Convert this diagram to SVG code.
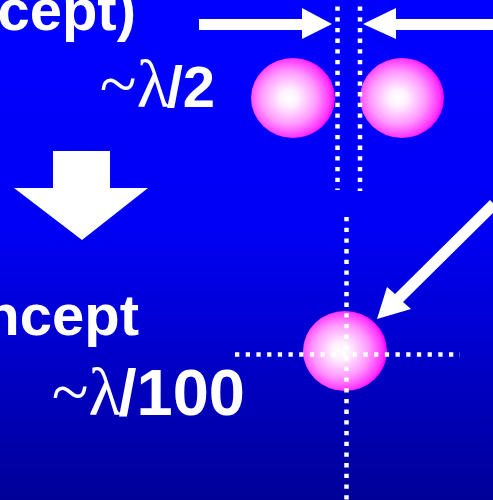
<svg xmlns="http://www.w3.org/2000/svg" width="493" height="500" viewBox="0 0 493 500">
<defs>
<linearGradient id="bg" x1="0" y1="0" x2="0" y2="1">
<stop offset="0" stop-color="#0000FF"/>
<stop offset="0.45" stop-color="#0000F6"/>
<stop offset="1" stop-color="#000098"/>
</linearGradient>
<radialGradient id="ball" cx="0.45" cy="0.5" r="0.55" fx="0.45" fy="0.5">
<stop offset="0" stop-color="#FFFFFF"/>
<stop offset="0.2" stop-color="#FFF0FF"/>
<stop offset="0.6" stop-color="#FF99FF"/>
<stop offset="0.9" stop-color="#FF33FF"/>
<stop offset="1" stop-color="#F000F0"/>
</radialGradient>
<style>
.t{font-family:"Liberation Sans",Arial,sans-serif;font-weight:bold;font-size:58px;fill:#fff}
.g{font-family:"Liberation Serif","DejaVu Serif",serif;font-weight:normal;font-size:68px}
.dot{stroke:#fff;stroke-width:4.5;stroke-dasharray:4.3 6.4;fill:none}
.w{fill:#fff}
</style>
</defs>
<rect width="493" height="500" fill="url(#bg)"/>
<g id="texts">
<text class="t" x="136" y="30" text-anchor="end">cept)</text>
<text class="t" x="215" y="107" text-anchor="end" font-size="60"><tspan class="g">~λ</tspan><tspan dx="-3">/2</tspan></text>
<text class="t" x="139" y="335" text-anchor="end">ncept</text>
<text class="t" x="245" y="415" text-anchor="end" font-size="65" style="font-size:65px"><tspan class="g">~λ</tspan><tspan dx="-3">/100</tspan></text>
</g>
<g id="down-arrow">
<polygon class="w" points="53,151 110,151 110,188 148,188 82,240 14,188 53,188"/>
</g>
<g id="ball-left"><ellipse cx="293" cy="98" rx="42" ry="40" fill="url(#ball)"/></g>
<g id="ball-right"><ellipse cx="402" cy="98" rx="42" ry="40" fill="url(#ball)"/></g>
<g id="ball-bottom"><ellipse cx="345" cy="351" rx="42" ry="40" fill="url(#ball)"/></g>
<g id="connectors">
<line class="dot" x1="337.5" y1="6.5" x2="337.5" y2="190"/>
<line class="dot" x1="360" y1="6.5" x2="360" y2="191"/>
<line class="dot" x1="346.5" y1="217" x2="346.5" y2="500"/>
<line class="dot" x1="235" y1="354.5" x2="460" y2="354.5"/>
<polygon class="w" points="199,19 302,19 302,8 332,24 302,39 302,30 199,30"/>
<polygon class="w" points="493,19 396,19 396,8 363,24 396,39 396,30 493,30"/>
<polygon class="w" points="490,200 498,208 403,302 411,309 377,319 387,287 395,294"/>
</g>
</svg>
